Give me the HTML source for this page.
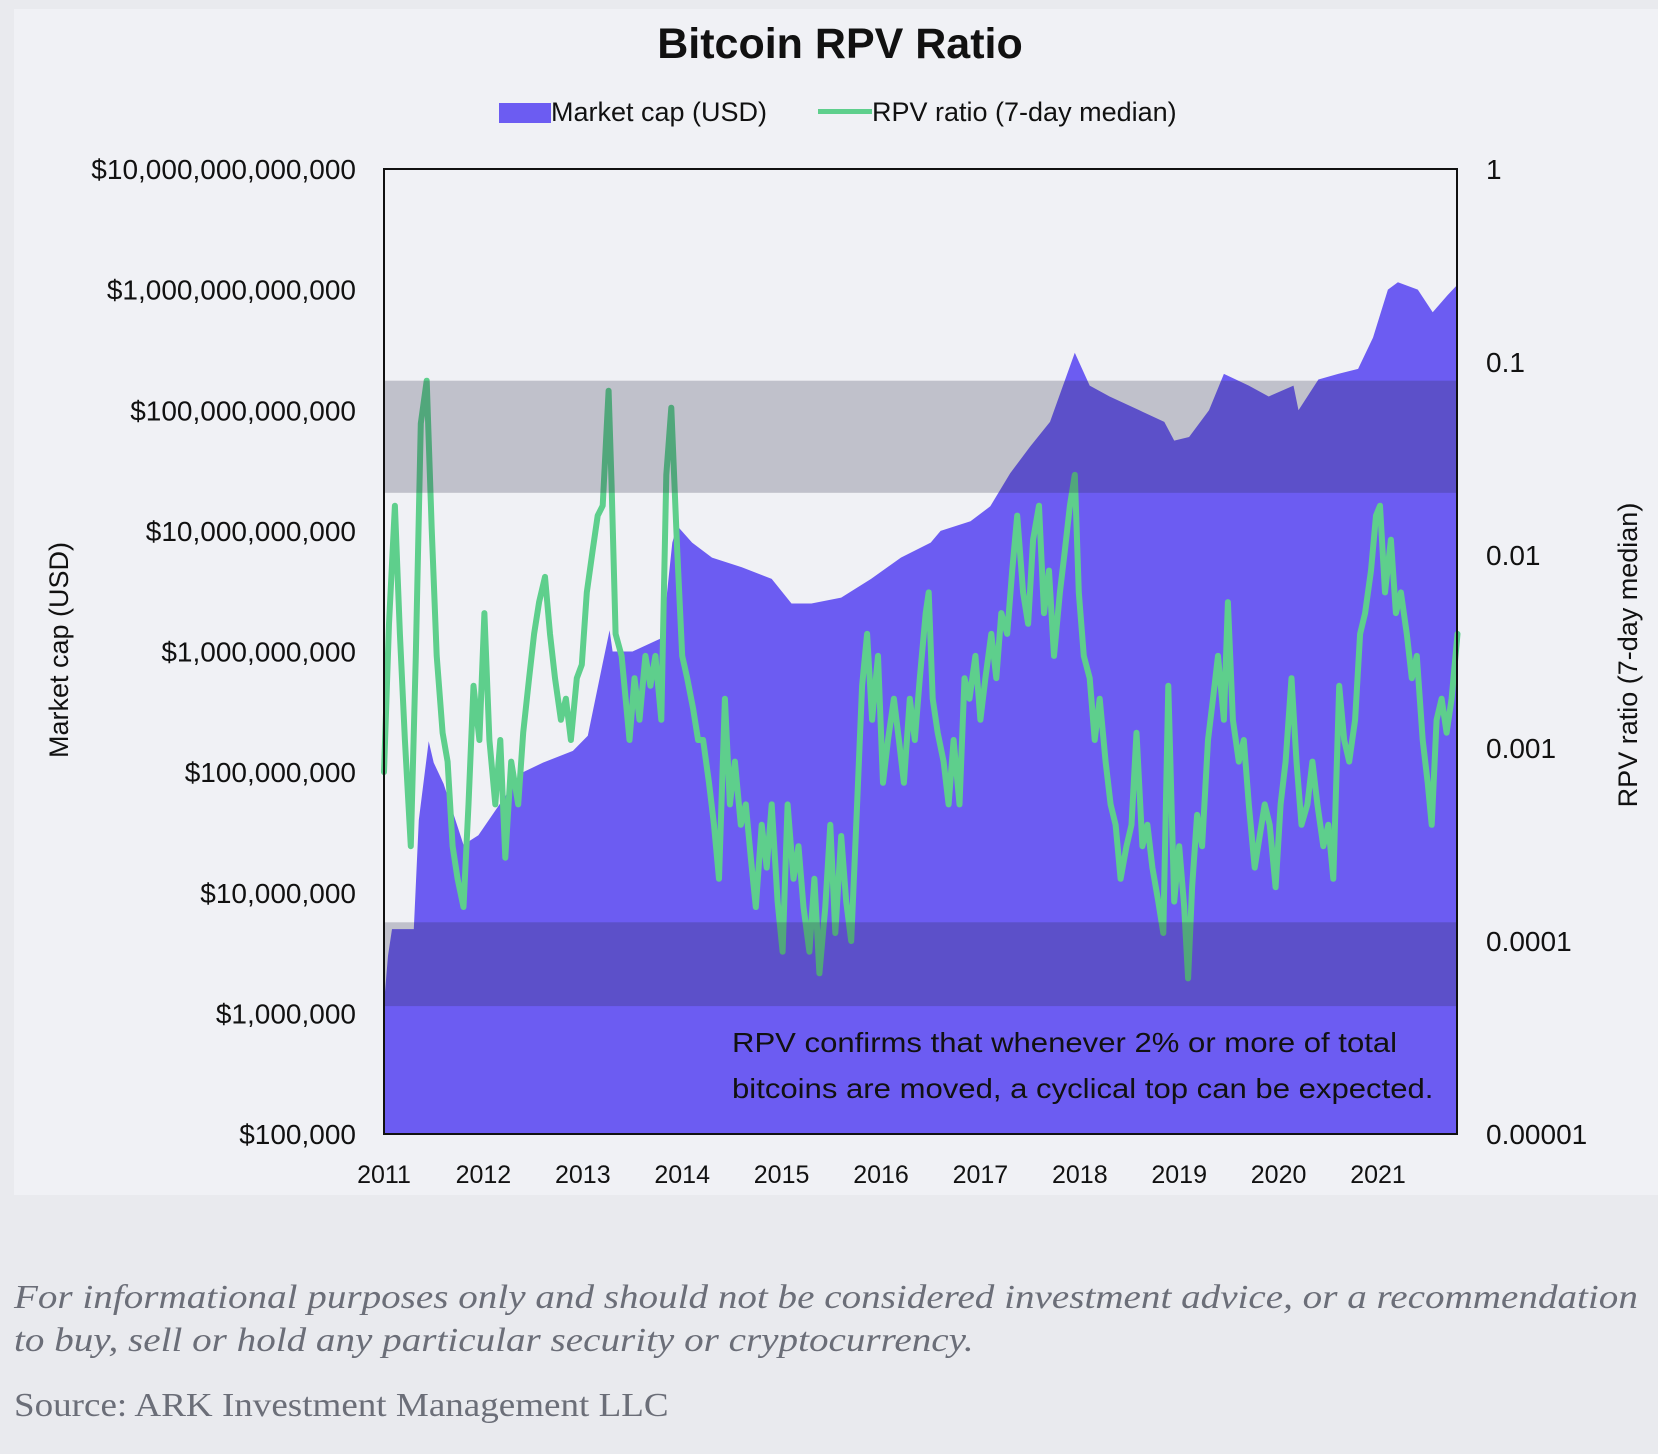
<!DOCTYPE html>
<html><head><meta charset="utf-8">
<style>
body{margin:0;width:1658px;height:1454px;background:#e9eaee;font-family:"Liberation Sans",sans-serif;overflow:hidden;position:relative}
#card{position:absolute;left:14px;top:9px;width:1644px;height:1186px;background:#f0f1f5}
.t{position:absolute;white-space:nowrap;color:#111}
.foot{position:absolute;left:14px;font-family:"Liberation Serif",serif;color:#6b6e78;font-size:34px;transform-origin:0 0;white-space:nowrap}
</style></head><body>
<div id="card"></div>
<div class="t" style="left:0;width:1680px;text-align:center;top:20px;font-size:43px;font-weight:bold">Bitcoin RPV Ratio</div>
<div class="t" style="left:499px;top:97px;font-size:27px"><span style="display:inline-block;width:52px;height:20px;background:#6c5cf2;vertical-align:-2px"></span>Market cap (USD)</div>
<div class="t" style="left:818px;top:97px;font-size:27px"><span style="display:inline-block;width:54px;height:5px;background:#5ecf8c;vertical-align:7px"></span>RPV ratio (7-day median)</div>
<svg id="chart" width="1658" height="1454" style="position:absolute;left:0;top:0"></svg>
<div class="t" style="left:732px;top:1020px;font-size:28px;line-height:46px;transform:scaleX(1.11);transform-origin:0 0">RPV confirms that whenever 2% or more of total<br>bitcoins are moved, a cyclical top can be expected.</div>
<div class="foot" style="top:1276px;font-style:italic;line-height:43px;transform:scaleX(1.15)">For informational purposes only and should not be considered investment advice, or a recommendation<br>to buy, sell or hold any particular security or cryptocurrency.</div>
<div class="foot" style="top:1387px;transform:scaleX(1.09)">Source: ARK Investment Management LLC</div>
<script>
const capYears=[2011.0,2011.04,2011.08,2011.3,2011.35,2011.45,2011.5,2011.6,2011.8,2011.95,2012.2,2012.4,2012.6,2012.9,2013.05,2013.2,2013.27,2013.3,2013.5,2013.8,2013.9,2013.95,2014.1,2014.3,2014.6,2014.9,2015.1,2015.3,2015.6,2015.9,2016.2,2016.5,2016.6,2016.9,2017.1,2017.3,2017.5,2017.7,2017.95,2018.1,2018.3,2018.6,2018.85,2018.95,2019.1,2019.3,2019.45,2019.7,2019.9,2020.15,2020.2,2020.4,2020.6,2020.8,2020.95,2021.1,2021.2,2021.4,2021.55,2021.7,2021.8];
const capValues=[1.2e6,3e6,5e6,5e6,4e7,1.8e8,1.2e8,8e7,2.5e7,3e7,6e7,1e8,1.2e8,1.5e8,2e8,8e8,1.5e9,1e9,1e9,1.3e9,8e9,1.1e10,8e9,6e9,5e9,4e9,2.5e9,2.5e9,2.8e9,4e9,6e9,8e9,1e10,1.2e10,1.6e10,3e10,5e10,8e10,3e11,1.6e11,1.3e11,1e11,8e10,5.6e10,6e10,1e11,2e11,1.6e11,1.3e11,1.6e11,1e11,1.8e11,2e11,2.2e11,4e11,1e12,1.15e12,1e12,6.5e11,9e11,1.1e12];
const rpvYears=[2011.00,2011.05,2011.11,2011.16,2011.21,2011.27,2011.32,2011.37,2011.43,2011.48,2011.53,2011.59,2011.64,2011.69,2011.74,2011.80,2011.85,2011.90,2011.96,2012.01,2012.06,2012.12,2012.17,2012.22,2012.28,2012.35,2012.40,2012.46,2012.51,2012.56,2012.62,2012.67,2012.72,2012.78,2012.83,2012.88,2012.94,2012.99,2013.04,2013.10,2013.15,2013.20,2013.26,2013.29,2013.33,2013.39,2013.47,2013.52,2013.57,2013.63,2013.68,2013.73,2013.79,2013.84,2013.89,2013.95,2014.00,2014.05,2014.11,2014.16,2014.21,2014.27,2014.32,2014.37,2014.43,2014.48,2014.53,2014.59,2014.64,2014.69,2014.74,2014.80,2014.85,2014.90,2014.96,2015.01,2015.06,2015.12,2015.17,2015.22,2015.28,2015.33,2015.38,2015.44,2015.49,2015.54,2015.60,2015.65,2015.70,2015.76,2015.81,2015.86,2015.91,2015.97,2016.02,2016.07,2016.13,2016.18,2016.23,2016.29,2016.34,2016.39,2016.45,2016.48,2016.52,2016.57,2016.63,2016.68,2016.73,2016.79,2016.84,2016.89,2016.95,2017.00,2017.05,2017.11,2017.16,2017.21,2017.27,2017.32,2017.37,2017.43,2017.48,2017.53,2017.59,2017.64,2017.69,2017.74,2017.80,2017.85,2017.90,2017.95,2017.99,2018.04,2018.10,2018.15,2018.20,2018.26,2018.31,2018.36,2018.41,2018.47,2018.52,2018.57,2018.63,2018.68,2018.73,2018.79,2018.84,2018.89,2018.95,2019.00,2019.05,2019.09,2019.13,2019.18,2019.23,2019.29,2019.34,2019.39,2019.45,2019.49,2019.54,2019.60,2019.65,2019.70,2019.76,2019.81,2019.86,2019.91,2019.97,2020.02,2020.07,2020.13,2020.18,2020.23,2020.29,2020.34,2020.39,2020.45,2020.50,2020.55,2020.61,2020.66,2020.71,2020.77,2020.82,2020.87,2020.93,2020.98,2021.02,2021.07,2021.13,2021.18,2021.23,2021.29,2021.34,2021.39,2021.45,2021.50,2021.54,2021.59,2021.64,2021.69,2021.74,2021.80];
const rpvValues=[0.00075,0.0044,0.018,0.0039,0.0011,0.00031,0.003,0.048,0.080,0.0137,0.003,0.0012,0.00085,0.00031,0.00021,0.00015,0.00051,0.0021,0.0011,0.005,0.0011,0.00051,0.0011,0.00027,0.00085,0.00051,0.0012,0.0023,0.0039,0.0057,0.0077,0.0039,0.0023,0.0014,0.0018,0.0011,0.0023,0.0027,0.0064,0.0106,0.016,0.018,0.071,0.023,0.0039,0.003,0.0011,0.0023,0.0014,0.003,0.0021,0.003,0.0014,0.026,0.058,0.0106,0.003,0.0023,0.0016,0.0011,0.0011,0.00066,0.0004,0.00021,0.0018,0.00051,0.00085,0.0004,0.00051,0.00027,0.00015,0.0004,0.00024,0.00051,0.00016,0.000088,0.00051,0.00021,0.00031,0.00015,0.000088,0.00021,0.000068,0.00015,0.0004,0.00011,0.00035,0.00016,0.0001,0.00051,0.0021,0.0039,0.0014,0.003,0.00066,0.0011,0.0018,0.0011,0.00066,0.0018,0.0011,0.0023,0.005,0.0064,0.0018,0.0012,0.00085,0.00051,0.0011,0.00051,0.0023,0.0018,0.003,0.0014,0.0023,0.0039,0.0023,0.005,0.0039,0.0083,0.016,0.0064,0.0044,0.012,0.018,0.005,0.0083,0.003,0.0064,0.0106,0.018,0.026,0.0064,0.003,0.0023,0.0011,0.0018,0.00085,0.00051,0.0004,0.00021,0.00031,0.0004,0.0012,0.00031,0.0004,0.00024,0.00016,0.00011,0.0021,0.00016,0.00031,0.00015,0.000064,0.00019,0.00045,0.00031,0.0011,0.0018,0.003,0.0014,0.0057,0.0014,0.00085,0.0011,0.00051,0.00024,0.00035,0.00051,0.0004,0.00019,0.00051,0.00085,0.0023,0.00085,0.0004,0.00051,0.00085,0.00051,0.00031,0.0004,0.00021,0.0021,0.0011,0.00085,0.0014,0.0039,0.005,0.0083,0.016,0.018,0.0064,0.012,0.005,0.0064,0.0039,0.0023,0.003,0.0011,0.00066,0.0004,0.0014,0.0018,0.0012,0.0018,0.0039];
const leftTicks=["$100,000","$1,000,000","$10,000,000","$100,000,000","$1,000,000,000","$10,000,000,000","$100,000,000,000","$1,000,000,000,000","$10,000,000,000,000"];
const rightTicks=["0.00001","0.0001","0.001","0.01","0.1","1"];
const yearTicks=[2011,2012,2013,2014,2015,2016,2017,2018,2019,2020,2021];
const bandTop=[0.08,0.021], bandBottom=[1.25e-4,4.6e-5];
const L=384,R=1457,T=169,B=1134;
const xS=y=>L+(y-2011)*99.4;
const yL=v=>B-(Math.log10(v)-5)/8*(B-T);
const yR=v=>B-(Math.log10(v)+5)/5*(B-T);
const svg=document.getElementById('chart');const NS='http://www.w3.org/2000/svg';
function mk(t,a){const e=document.createElementNS(NS,t);for(const k in a)e.setAttribute(k,a[k]);svg.appendChild(e);return e;}
let r=mk('rect',{x:L,y:T,width:R-L,height:B-T,fill:'#f0f1f5'});


let d='M'+xS(capYears[0])+','+B;
capYears.forEach((y,i)=>{d+=' L'+xS(y).toFixed(1)+','+yL(capValues[i]).toFixed(1);});
d+=' L'+R+','+yL(capValues[capValues.length-1]).toFixed(1)+' L'+R+','+B+' Z';
let a=mk('path',{d:d,fill:'#6c5cf2'});


let ld='';rpvYears.forEach((y,i)=>{ld+=(i?' L':'M')+xS(y).toFixed(1)+','+yR(rpvValues[i]).toFixed(1);});
let ln=mk('path',{d:ld,fill:'none',stroke:'#5ecf8c','stroke-width':6,'stroke-linejoin':'round','stroke-linecap':'round'});


[[bandTop,'upper-band'],[bandBottom,'lower-band']].forEach(([b,n])=>{
 let e=mk('rect',{x:L,y:yR(b[0]),width:R-L,height:yR(b[1])-yR(b[0]),fill:'rgba(40,40,70,0.24)'});
 
 
});
let fr=mk('rect',{x:L,y:T,width:R-L,height:B-T,fill:'none',stroke:'#111','stroke-width':2});


function txt(s,x,y,anchor,size,name,rot){const e=mk('text',{x:x,y:y,'text-anchor':anchor,'font-size':size,fill:'#111','font-family':'Liberation Sans, sans-serif'});e.textContent=s;if(rot)e.setAttribute('transform','rotate('+rot+' '+x+' '+y+')');return e;}
leftTicks.forEach((s,i)=>{txt(s,356,B-i*(B-T)/8+10,'end',28,'left-tick-label');});
rightTicks.forEach((s,i)=>{txt(s,1486,B-i*(B-T)/5+10,'start',28,'right-tick-label');});
yearTicks.forEach(y=>{txt(String(y),xS(y),1183,'middle',25,'x-tick-label');});
txt('Market cap (USD)',68,650,'middle',27,'y-axis-title-left',-90);
txt('RPV ratio (7-day median)',1637,655,'middle',27,'y-axis-title-right',-90);
</script>
</body></html>
